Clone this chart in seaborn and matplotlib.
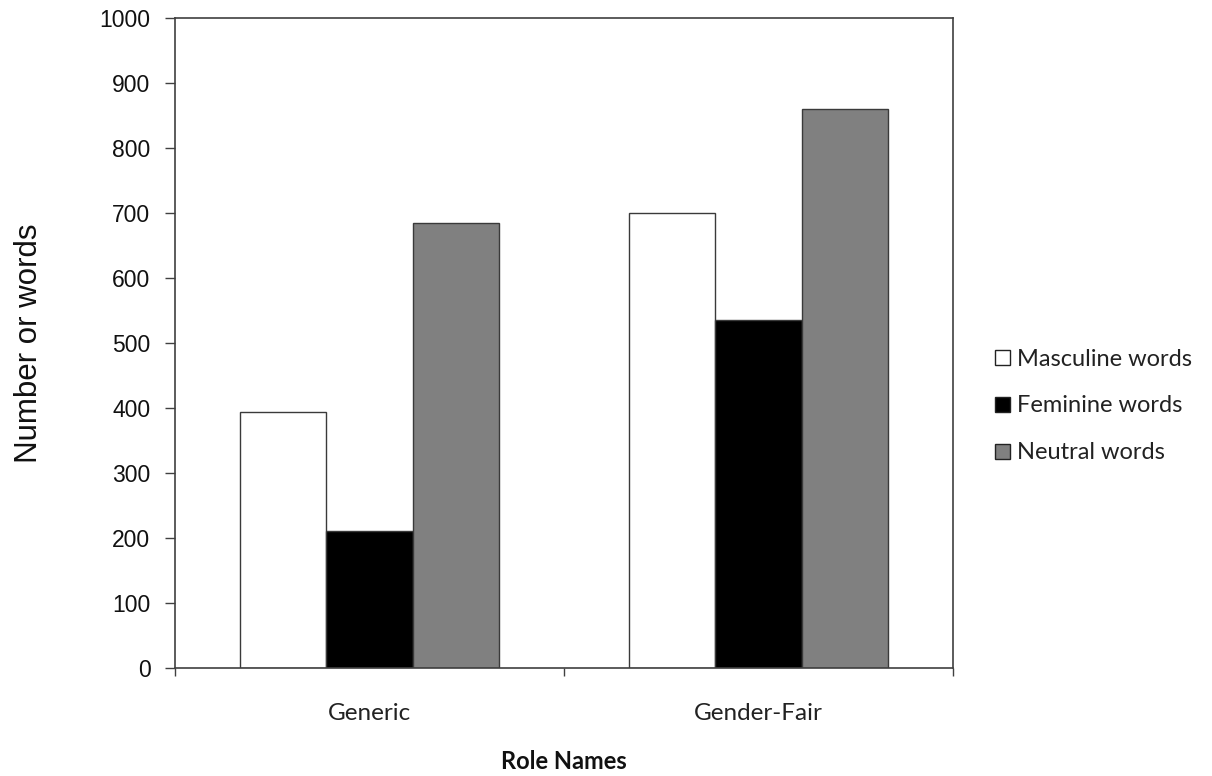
import matplotlib
matplotlib.use("Agg")
import matplotlib.pyplot as plt
import seaborn as sns
import pandas as pd

categories = ["Generic", "Gender-Fair"]
series = ["Masculine words", "Feminine words", "Neutral words"]
masculine = [394, 700]
feminine = [211, 535]
neutral = [685, 860]
yticks = [0, 100, 200, 300, 400, 500, 600, 700, 800, 900, 1000]
colors = ["#FFFFFF", "#000000", "#808080"]

rows = []
for s, vals in zip(series, [masculine, feminine, neutral]):
    for c, v in zip(categories, vals):
        rows.append({"Role": c, "Series": s, "Count": v})
df = pd.DataFrame(rows)

sns.set_style("white")
fig = plt.figure(figsize=(12.12, 7.76), dpi=100)
ax = fig.add_axes([0.1444, 0.1388, 0.6419, 0.8384])

sns.barplot(data=df, x="Role", y="Count", hue="Series", order=categories,
            hue_order=series, palette=colors, width=0.667, gap=0,
            edgecolor="#3a3a3a", linewidth=1.0, ax=ax, legend=True)

ax.set_xlim(-0.5, 1.5)
ax.set_ylim(0, 1000)
ax.set_yticks(yticks)
ax.set_yticklabels([str(t) for t in yticks], fontsize=16.5, family="Liberation Sans",
                   color="#111111")
ax.tick_params(axis="y", direction="out", length=7.2, width=1, color="#404040", left=True, pad=10.5)

# category labels without ticks, separator ticks between categories
ax.set_xticks([-0.5, 0.5, 1.5])
ax.set_xticklabels(["", "", ""])
ax.tick_params(axis="x", direction="out", length=6, width=1, color="#404040", bottom=True)
for i, c in enumerate(categories):
    ax.text(i, -0.08, c, transform=ax.get_xaxis_transform(), ha="center", va="baseline",
            fontsize=17.5, family="Lato", color="#222222")

for sp in ax.spines.values():
    sp.set_color("#404040")
    sp.set_linewidth(1.2)

ax.set_ylabel("Number or words", fontsize=22.5, family="Liberation Sans", color="#111111")
ax.yaxis.set_label_coords(-0.169, 0.5)
ax.set_xlabel("")
ax.text(0.5, -0.1545, "Role Names", transform=ax.transAxes, ha="center", va="baseline",
        fontsize=17, family="Lato", fontweight="bold", color="#111111")

leg = ax.legend(loc="center left", bbox_to_anchor=(995 / 1212, 1 - 406 / 776),
                bbox_transform=fig.transFigure, frameon=False,
                prop={"family": "Lato", "size": 17}, handlelength=0.62, handleheight=0.62,
                handletextpad=0.3, labelspacing=1.1, borderpad=0, borderaxespad=0)
for h in leg.legend_handles:
    h.set_edgecolor("#222222")
    h.set_linewidth(1.0)
for t in leg.get_texts():
    t.set_color("#222222")

fig.savefig("out.png", dpi=100)
